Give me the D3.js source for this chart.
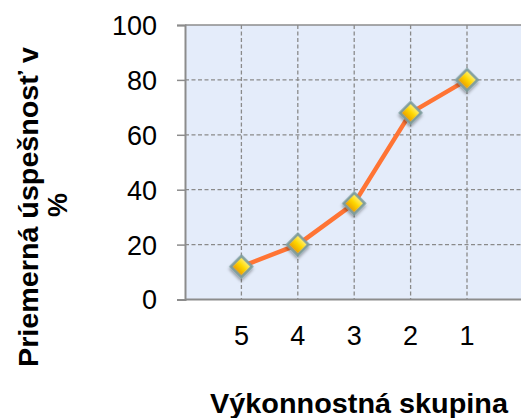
<!DOCTYPE html>
<html><head><meta charset="utf-8">
<script src="https://cdn.jsdelivr.net/npm/d3@7"></script>
<style>body{margin:0;background:#fff;overflow:hidden}svg{display:block}text{font-family:Arial,"Liberation Sans",sans-serif}</style>
</head><body><svg id="c" width="521" height="418"></svg>
<script>
const categories = ["5","4","3","2","1"];
const values = [12, 20, 35, 68, 80];
const yTicks = [0, 20, 40, 60, 80, 100];
const yTitle = ["Priemerná úspešnosť v", "%"];
const xTitle = "Výkonnostná skupina";

const svg = d3.select("#c");
const pLeft = 185, pTop = 25, pBottom = 299.5, pRight = 523.4;
const x = d3.scaleLinear().domain([0, categories.length + 1]).range([pLeft, pRight]);
const y = d3.scaleLinear().domain([0, 100]).range([pBottom, pTop]);

const defs = svg.append("defs");
const g = defs.append("linearGradient").attr("id","mk").attr("x1",0).attr("y1",0).attr("x2",0).attr("y2",1);
g.append("stop").attr("offset","0%").attr("stop-color","#FFF27A");
g.append("stop").attr("offset","45%").attr("stop-color","#FFD800");
g.append("stop").attr("offset","100%").attr("stop-color","#E89A00");
const f = defs.append("filter").attr("id","sh").attr("x","-50%").attr("y","-50%").attr("width","200%").attr("height","200%");
f.append("feDropShadow").attr("dx",1.5).attr("dy",2).attr("stdDeviation",1.5).attr("flood-color","#000").attr("flood-opacity",0.35);

// plot background
svg.append("rect").attr("x", pLeft).attr("y", pTop).attr("width", pRight - pLeft).attr("height", pBottom - pTop).attr("fill", "#E4ECFA");

// horizontal gridlines
svg.append("g").selectAll("line").data(yTicks.filter(d => d > 0 && d < 100)).join("line")
  .attr("x1", pLeft).attr("x2", 521).attr("y1", d => y(d)).attr("y2", d => y(d))
  .attr("stroke", "#8a8a8a").attr("stroke-width", 1.3).attr("stroke-dasharray", "4,2.5");
// vertical gridlines
svg.append("g").selectAll("line").data(categories).join("line")
  .attr("x1", (d, i) => x(i + 1)).attr("x2", (d, i) => x(i + 1)).attr("y1", pTop).attr("y2", pBottom)
  .attr("stroke", "#8a8a8a").attr("stroke-width", 1.3).attr("stroke-dasharray", "4,2.5");

// top border
svg.append("line").attr("x1", pLeft).attr("x2", 521).attr("y1", y(100)).attr("y2", y(100)).attr("stroke", "#8c8c8c").attr("stroke-width", 1.5);

// y axis
const yAxis = svg.append("g").attr("transform", `translate(${pLeft},0)`)
  .call(d3.axisLeft(y).tickValues(yTicks).tickSize(8).tickPadding(20));
yAxis.select(".domain").attr("stroke", "#8c8c8c").attr("stroke-width", 2);
yAxis.selectAll(".tick line").attr("stroke", "#8c8c8c").attr("stroke-width", 1.5);
yAxis.selectAll(".tick text").attr("font-size", 27).attr("fill", "#000").attr("dy", "0.35em")
  .attr("font-family", "Arial, 'Liberation Sans', sans-serif");

// x axis
svg.append("line").attr("x1", pLeft).attr("x2", 521).attr("y1", pBottom).attr("y2", pBottom).attr("stroke", "#8c8c8c").attr("stroke-width", 2);
svg.append("g").selectAll("text").data(categories).join("text")
  .attr("x", (d, i) => x(i + 1)).attr("y", 345).attr("text-anchor", "middle")
  .attr("font-size", 27).attr("fill", "#000").text(d => d);

// line
const line = d3.line().x((d, i) => x(i + 1)).y(d => y(d));
svg.append("path").datum(values).attr("d", line).attr("fill", "none")
  .attr("stroke", "#FF7434").attr("stroke-width", 4.5).attr("stroke-linejoin", "round");

// markers
svg.append("g").selectAll("path").data(values).join("path")
  .attr("transform", (d, i) => `translate(${x(i + 1)},${y(d)}) rotate(45)`)
  .attr("d", d3.symbol().type(d3.symbolSquare).size(220)())
  .attr("fill", "url(#mk)").attr("stroke", "#7E9C9C").attr("stroke-width", 2.5)
  .attr("filter", "url(#sh)");

// titles
svg.append("text").attr("x", 359).attr("y", 413).attr("text-anchor", "middle")
  .attr("font-size", 27).attr("font-weight", "bold").attr("fill", "#000")
  .attr("textLength", 298).attr("lengthAdjust", "spacingAndGlyphs").text(xTitle);
svg.append("text").attr("transform", "translate(37.5,207) rotate(-90)").attr("text-anchor", "middle")
  .attr("font-size", 27).attr("font-weight", "bold").attr("fill", "#000")
  .attr("textLength", 320).attr("lengthAdjust", "spacingAndGlyphs").text(yTitle[0]);
svg.append("text").attr("transform", "translate(67,205) rotate(-90)").attr("text-anchor", "middle")
  .attr("font-size", 27).attr("font-weight", "bold").attr("fill", "#000").text(yTitle[1]);
</script></body></html>
